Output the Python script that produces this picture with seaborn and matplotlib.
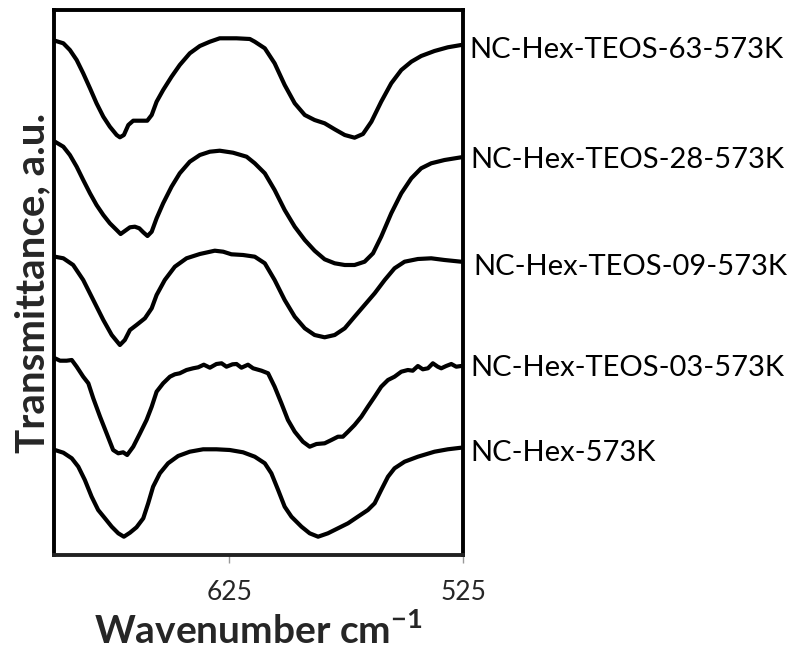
import matplotlib
matplotlib.use("Agg")
import matplotlib.pyplot as plt
import matplotlib.transforms as mtransforms
import seaborn as sns
import pandas as pd

# ---- data (wavenumber, cm^-1 ; transmittance, a.u.) ----
wn_63 = [699.6, 696.0, 693.2, 690.3, 687.5, 684.6, 681.8, 678.9, 676.1, 673.2, 671.8, 670.1, 668.2,
         666.1, 663.2, 660.1, 658.2, 656.1, 653.3, 649.7, 646.2, 641.9, 637.6, 633.3, 629.1, 621.9,
         616.2, 614.1, 609.8, 605.6, 601.3, 597.0, 592.7, 588.5, 584.2, 579.9, 575.6, 571.4, 567.8,
         564.2, 560.0, 555.7, 551.4, 547.1, 542.9, 537.2, 531.5, 525.8]
t_63 = [514.3, 511.7, 505, 495, 481.7, 466.7, 451.7, 438.3, 428.3, 420, 417.7, 420, 430,
        434.3, 434.3, 434.3, 440, 453.3, 465, 478.3, 490, 501.7, 509, 513.3, 516.7, 516.7,
        516, 513.3, 506.7, 491.7, 470, 451.7, 440, 435, 431.7, 425.7, 420, 417.3, 421,
        433.3, 453.3, 471.7, 485, 493.3, 499, 504, 507.7, 510]

wn_28 = [699.6, 696.0, 693.2, 690.3, 687.5, 684.6, 681.8, 678.9, 676.1, 673.2, 671.5, 669.7, 667.5,
         665.4, 663.5, 661.8, 660.0, 658.2, 656.1, 653.3, 649.7, 646.2, 641.9, 637.6, 633.3, 629.1,
         623.4, 617.6, 614.1, 609.8, 605.6, 601.3, 597.0, 592.7, 588.5, 584.2, 579.9, 575.6, 571.4,
         567.1, 563.5, 560.0, 555.7, 551.4, 547.1, 542.9, 538.6, 532.9, 525.8]
t_28 = [413.3, 408.3, 400, 388.3, 375, 361.7, 350, 340, 331.7, 325, 321, 324, 327.7,
        328.3, 326.7, 322.7, 319, 323.3, 336.7, 351.7, 368.3, 381.7, 393.3, 400, 403.3, 404.3,
        402.3, 398.3, 391.7, 381.7, 365, 345, 328.3, 315, 304.3, 295.7, 291.7, 290, 290,
        293.3, 301.7, 318.3, 341.7, 361.7, 376.7, 386.7, 391.7, 395, 397.7]

wn_09 = [699.6, 696.0, 691.8, 687.5, 683.2, 678.9, 675.3, 671.8, 669.7, 667.5, 664.7, 661.1, 658.2,
         656.1, 652.6, 648.3, 643.3, 637.6, 631.2, 627.6, 624.1, 619.1, 614.1, 609.8, 605.6, 601.3,
         597.0, 592.7, 588.5, 584.2, 579.9, 575.6, 571.4, 567.1, 562.8, 558.5, 554.3, 550.0, 544.3,
         538.6, 532.9, 525.8]
t_09 = [298.3, 296.7, 290, 275, 255, 235, 220, 210, 215, 225, 230, 236.7, 246.7,
        260, 275, 288.3, 296.7, 301, 304.3, 303.3, 300.7, 300, 298.3, 291.7, 275, 255,
        238.3, 226.7, 220, 217.7, 220, 226.7, 238.3, 250, 261.7, 275, 286.7, 293.3, 296,
        296.7, 295, 293.3]

wn_03 = [699.6, 697.4, 694.6, 692.4, 690.3, 687.5, 685.3, 683.2, 680.3, 677.5, 674.7, 672.5, 670.4,
         668.7, 666.1, 663.2, 660.4, 658.2, 656.1, 653.3, 650.4, 648.3, 646.2, 643.3, 640.5, 638.3,
         635.9, 633.3, 630.5, 628.3, 626.2, 623.6, 621.9, 619.8, 617.0, 614.8, 611.2, 608.4, 605.6,
         602.7, 599.9, 597.0, 593.5, 590.6, 587.7, 584.2, 581.3, 578.5, 576.4, 574.2, 571.4, 568.5,
         565.7, 562.8, 560.0, 557.1, 554.3, 551.4, 548.6, 546.5, 544.3, 542.2, 540.0, 537.9, 535.8,
         534.3, 532.2, 530.0, 527.9, 525.8]
t_03 = [196.7, 194.3, 194.3, 195, 188.3, 178.3, 171.7, 156.7, 138.3, 121.7, 105, 101.7, 102.7,
        100, 108.3, 121.7, 135, 148.3, 163.3, 171.7, 178.3, 180.7, 181.7, 185, 186.7, 187.7,
        190.3, 187.3, 191, 191.7, 188.3, 190.7, 191, 187.3, 190.3, 186.7, 184.3, 181.7, 168.3,
        151.7, 135, 123.3, 113.3, 108.3, 111, 111.7, 115, 118.3, 118.3, 123.3, 130, 138.3,
        148.3, 158.3, 168.3, 175, 178.3, 183.3, 185, 184.3, 189, 185.7, 186.7, 191.7, 188.3,
        186.7, 189, 191, 188.3, 189]

wn_00 = [699.6, 696.0, 692.4, 689.6, 686.8, 683.9, 681.1, 678.2, 675.3, 672.5, 670.1, 667.5, 664.7,
         661.8, 659.7, 657.6, 654.7, 651.2, 646.9, 641.9, 636.2, 630.5, 624.8, 619.1, 614.1, 609.8,
         607.0, 604.1, 601.3, 598.4, 594.1, 590.6, 587.0, 582.8, 578.5, 574.2, 570.0, 565.7, 562.8,
         560.0, 557.1, 554.3, 550.0, 544.3, 537.2, 531.5, 525.8]
t_00 = [105, 102.3, 96.7, 88.3, 75, 58.3, 45, 36.7, 28.3, 21.7, 18.3, 22.3, 27.7,
        36.7, 51.7, 68.3, 81.7, 91.7, 99, 103.3, 105.7, 105.7, 105, 102.7, 98.3, 91.7,
        81.7, 65, 48.3, 38.3, 28.3, 21.7, 18.3, 21.7, 26.7, 31.7, 38.3, 45, 51.7,
        65, 78.3, 86.7, 93.3, 98.3, 103.3, 105.7, 107.3]

series_names = ["NC-Hex-TEOS-63-573K", "NC-Hex-TEOS-28-573K", "NC-Hex-TEOS-09-573K",
                "NC-Hex-TEOS-03-573K", "NC-Hex-573K"]
series_x = [wn_63, wn_28, wn_09, wn_03, wn_00]
series_y = [t_63, t_28, t_09, t_03, t_00]
label_y = [505, 395, 288, 187, 102]
label_dx = [6, 7, 10, 7, 7]

x_ticks = [625, 525]
x_tick_labels = ["625", "525"]

# ---- style ----
sns.set_style("white")
plt.rcParams['font.family'] = ['Lato', 'DejaVu Sans']
plt.rcParams['mathtext.fontset'] = 'custom'
plt.rcParams['mathtext.rm'] = 'Lato'
plt.rcParams['mathtext.bf'] = 'Lato:bold'

fig = plt.figure(figsize=(7.94, 6.55), dpi=100)
ax = fig.add_axes([54 / 794, 100 / 655, 409 / 794, 545 / 655])

for name, xs, ys in zip(series_names, series_x, series_y):
    df = pd.DataFrame({"wn": xs, "t": ys})
    sns.lineplot(data=df, x="wn", y="t", ax=ax, color="black", linewidth=3.0,
                 estimator=None, sort=False, solid_joinstyle="round", solid_capstyle="round")

ax.set_xlim(700, 525)
ax.set_ylim(0, 545)
ax.set_xticks(x_ticks)
ax.set_xticklabels(x_tick_labels)
ax.set_yticks([])
ax.tick_params(axis="x", direction="out", length=6, width=1, color="#999999",
               labelsize=19, pad=12, bottom=True)

for side in ["left", "right", "top", "bottom"]:
    ax.spines[side].set_visible(True)
    ax.spines[side].set_color("black")
    ax.spines[side].set_linewidth(2.8)
ax.spines["bottom"].set_color("#222222")

ax.set_xlabel(r"Wavenumber cm$^{\mathbf{-1}}$", fontsize=28, fontweight="bold", labelpad=5)
ax.set_ylabel("Transmittance, a.u.", fontsize=29, fontweight="bold", labelpad=2)

trans = mtransforms.blended_transform_factory(ax.transAxes, ax.transData)
for name, ly, dx in zip(series_names, label_y, label_dx):
    ax.text(1.0 + dx / 409, ly, name, transform=trans, fontsize=21,
            ha="left", va="center", color="black")

fig.savefig("out.png", dpi=100)
